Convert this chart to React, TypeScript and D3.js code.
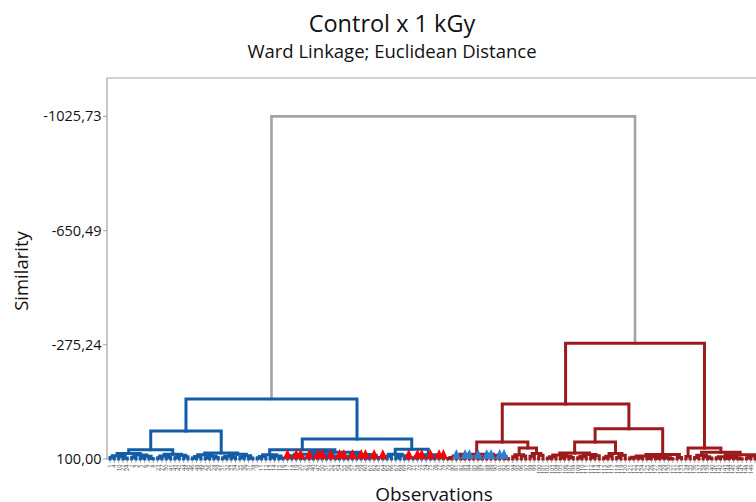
import React from 'react';
import * as d3 from 'd3';

type T = number | [number, T, T];

const TITLE = 'Control x 1 kGy';
const SUBTITLE = 'Ward Linkage; Euclidean Distance';
const X_LABEL = 'Observations';
const Y_LABEL = 'Similarity';
const Y_TICKS = [-1025.73, -650.49, -275.24, 100.0];

// Blue cluster sub-groups: [similarity, left, right]
const B111: T = [82, [89, [95, 1, 4], [92, 10, [97, 22, 24]]], [87, [94, 2, 3], [91, [96, 5, 6], [98, 7, 8]]]];
const B112: T = [84, [90, [96, 23, 27], [94, 30, 41]], [88, [95, 43, 42], [93, 44, 45]]];
const B12: T = [80, [86, [92, [97, 46, 48], 49], [90, [96, 25, 26], [95, 28, 29]]], [84, [91, [96, 31, 32], [94, 33, 34]], [89, [95, 35, 36], [97, 37, 38]]]];
const B211: T = [86, [92, [96, 9, 11], 12], [90, [95, 13, 14], [97, 15, 16]]];
const B212: T = [78, [84, [89, [95, 17, 18], [93, 19, [97, 20, 21]]], [87, [92, [96, 39, 40], [94, 47, 50]], [90, [95, 51, 52], [97, 53, 54]]]], [85, [91, [96, 55, 56], [94, 57, 58]], [88, [93, 59, [97, 60, 61]], [95, 62, 63]]]];
const B221: T = [84, [91, [96, 64, 65], 66], [89, [95, 67, 68], [97, 69, 70]]];
const B222: T = [86, [92, [96, 71, 72], [94, 73, 74]], [90, [97, 75, 76], [95, 77, 78]]];

// Red cluster sub-groups
const R111: T = [84, [90, [95, [98, 79, 80], 81], [93, [97, 82, 83], [96, 84, 85]]], [88, [94, [97, 86, 87], [95, 88, 89]], [92, [96, 90, 91], [98, 92, 93]]]];
const R112: T = [64, [86, [93, 94, 95], [90, 96, 97]], [82, [91, 98, 99], [88, 100, 101]]];
const R1211: T = [80, [87, [93, [97, 102, 103], 104], [91, [96, 105, 106], [95, 107, 108]]], [85, [92, [96, 109, 110], 111], [89, [95, 112, 113], 114]]];
const R1212: T = [82, [91, [96, 115, 116], 117], [88, [95, 118, 119], 120]];
const R122A: T = [90, [94, [97, 121, 122], [96, 123, 124]], [93, [98, 125, 126], [95, [97, 127, 128], [96, 129, [99, 130, 131]]]]];
const R122B: T = [95, 132, 133];
const R21: T = [92, 134, 135];
const R22A: T = [88, [95, 136, 137], [93, 138, [97, 139, 140]]];
const R22B1: T = [93, [96, 141, 142], [95, [98, 143, 144], [97, 145, [99, 146, 147]]]];
const R22B2: T = [90, [96, 148, 149], [94, [97, 150, 151], [98, 152, 153]]];

const BLUE: T = [-97.5, [7.8, [70, B111, B112], B12], [34, [70, B211, B212], [68, B221, B222]]];
const RED: T = [-280, [-81, [44, R111, R112], [1, [44, R1211, R1212], [85, R122A, R122B]]], [64, R21, [78, R22A, [86, R22B1, R22B2]]]];
const TREE: T = [-1025.73, BLUE, RED];

// Highlighted observations (triangle markers)
const RED_MARKERS = [17, 19, 20, 39, 47, 50, 52, 54, 55, 57, 59, 60, 62, 64, 70, 72, 73, 75, 77, 78];
const BLUE_MARKERS = [81, 83, 84, 86, 88, 89, 91, 92];

const C_BLUE = '#135ca6';
const C_RED = '#9c1a1c';
const C_GRAY = '#a3a3a3';
const FONT = '"Open Sans", "Noto Sans", sans-serif';

export default function App() {
  const W = 756, H = 502;
  const left = 107, top = 78, baseY = 459;
  const y = d3.scaleLinear().domain([100, -1025.73]).range([baseY, 116.4]);

  const root = d3.hierarchy<T>(TREE, (d) => (Array.isArray(d) ? [d[1], d[2]] : undefined));
  const leaves = root.leaves();
  const n = leaves.length;
  const x = d3
    .scalePoint<string>()
    .domain(leaves.map((l) => String(l.data)))
    .range([110, 110 + 4.33 * (n - 1)]);

  const pos = new Map<any, { x: number; y: number; color: string }>();
  root.eachAfter((node) => {
    if (node.children) {
      const xs = node.children.map((c) => pos.get(c)!.x);
      pos.set(node, { x: d3.mean(xs)!, y: y((node.data as any)[0]), color: C_GRAY });
    } else {
      pos.set(node, { x: x(String(node.data))!, y: y(100), color: C_GRAY });
    }
  });
  root.children![0].each((nd) => (pos.get(nd)!.color = C_BLUE));
  root.children![1].each((nd) => (pos.get(nd)!.color = C_RED));

  const links: { d: string; color: string; w: number }[] = [];
  root.each((node) => {
    if (!node.children) return;
    const p = pos.get(node)!;
    const a = pos.get(node.children[0])!;
    const b = pos.get(node.children[1])!;
    links.push({
      d: `M${a.x},${a.y}V${p.y}H${b.x}V${b.y}`,
      color: p.color,
      w: node === root ? 2.6 : 3,
    });
  });

  const fmt = (v: number) => d3.format('.2f')(v).replace('.', ',').replace('\u2212', '-');
  const tri = (cx: number) => `M${cx - 4.6},${baseY}L${cx},${baseY - 10}L${cx + 4.6},${baseY}Z`;

  return (
    <svg width={W} height={H} style={{ position: 'fixed', left: 0, top: 0, overflow: 'hidden', background: '#fff' }} fontFamily={FONT}>
      <rect x={0} y={0} width={W} height={H} fill="#fff" />
      <text x={392} y={32} textAnchor="middle" fontSize={23.5} fill="#111">{TITLE}</text>
      <text x={392} y={58} textAnchor="middle" fontSize={18.5} fill="#111">{SUBTITLE}</text>

      {/* frame */}
      <line x1={left} x2={W + 20} y1={top} y2={top} stroke={C_GRAY} strokeWidth={1.2} />
      <line x1={left} x2={left} y1={top} y2={baseY} stroke={C_GRAY} strokeWidth={1.2} />
      <line x1={left} x2={W + 20} y1={baseY} y2={baseY} stroke={C_GRAY} strokeWidth={1} />

      {/* y axis */}
      {Y_TICKS.map((t) => (
        <g key={t}>
          <line x1={left - 4} x2={left} y1={y(t)} y2={y(t)} stroke={C_GRAY} strokeWidth={1} />
          <text x={left - 5.5} y={y(t)} dy="0.35em" textAnchor="end" fontSize={14.5} fill="#111">{fmt(t)}</text>
        </g>
      ))}
      <text transform={`translate(28,271) rotate(-90)`} textAnchor="middle" fontSize={18.5} fill="#111">{Y_LABEL}</text>

      {/* leaf ticks & labels */}
      {leaves.map((l) => {
        const lx = x(String(l.data))!;
        return (
          <g key={String(l.data)}>
            <line x1={lx} x2={lx} y1={baseY} y2={baseY + 4} stroke={C_GRAY} strokeWidth={0.9} />
            {lx < W - 4 && (
              <text transform={`translate(${lx + 1.9},${baseY + 5.5}) rotate(-90)`} textAnchor="end" fontSize={5.6} fill="#444">{String(l.data)}</text>
            )}
          </g>
        );
      })}

      {/* dendrogram */}
      {links.map((lk, i) => (
        <path key={i} d={lk.d} fill="none" stroke={lk.color} strokeWidth={lk.w} strokeLinejoin="miter" strokeLinecap="square" />
      ))}

      {/* markers */}
      {RED_MARKERS.map((m) => (
        <path key={'r' + m} d={tri(x(String(m))!)} fill="#ff0000" />
      ))}
      {BLUE_MARKERS.map((m) => (
        <path key={'b' + m} d={tri(x(String(m))!)} fill="#2a7fd0" />
      ))}

      <text x={434} y={501} textAnchor="middle" fontSize={19} fill="#111">{X_LABEL}</text>
    </svg>
  );
}
